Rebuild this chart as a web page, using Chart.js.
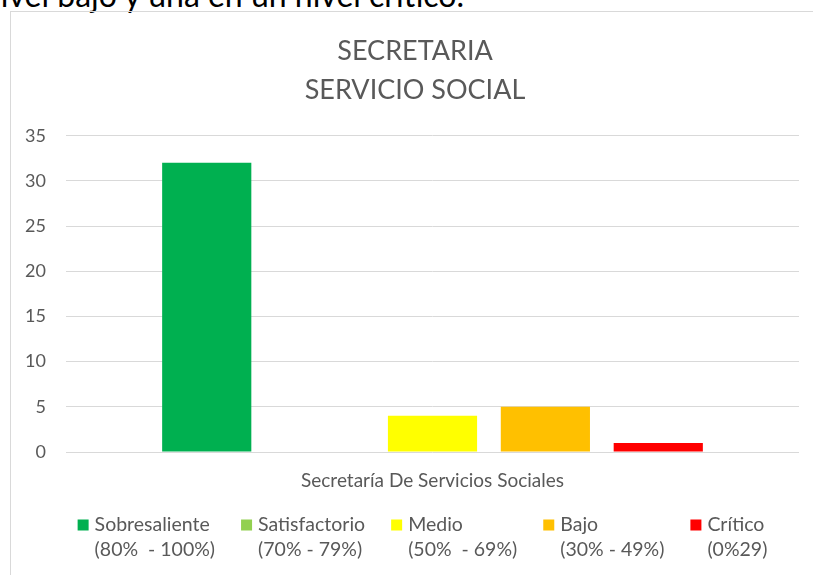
<!DOCTYPE html>
<html>
<head>
<meta charset="utf-8">
<script src="https://cdn.jsdelivr.net/npm/chart.js@4.4.1/dist/chart.umd.min.js"></script>
<style>
  html,body{margin:0;padding:0;background:#fff;overflow:hidden;}
  body{width:813px;height:575px;position:relative;}
  .doc-line{position:absolute;left:-17px;top:-21px;font:32px/32px Lato,sans-serif;color:#000;white-space:nowrap;}
  .frame{position:absolute;left:10px;top:11px;width:830px;height:600px;border:1px solid #d9d9d9;}
  #chart{position:absolute;left:11px;top:12px;}
</style>
</head>
<body>
<div class="doc-line">nivel bajo y una en un nivel crítico.</div>
<div class="frame"></div>
<canvas id="chart" width="808" height="563"></canvas>
<script>
/* data */
const categories = ['Secretaría De Servicios Sociales'];
const levels = ['Sobresaliente', 'Satisfactorio', 'Medio', 'Bajo', 'Crítico'];
const ranges = ['(80%  - 100%)', '(70% - 79%)', '(50%  - 69%)', '(30% - 49%)', '(0%29)'];
const counts = [32, 0, 4, 5, 1];
const titleLines = ['SECRETARIA', 'SERVICIO SOCIAL'];
const yMin = 0, yMax = 35, yStep = 5;

/* styles */
const levelColors = ['#00B050', '#92D050', '#FFFF00', '#FFC000', '#FF0000'];
const GREY = '#595959';
const FONT = 'Lato, sans-serif';

/* two-line legend under the axis, drawn on the canvas */
const twoLineLegend = {
  id: 'twoLineLegend',
  afterDraw(chart){
    const ctx = chart.ctx;
    const box = 11, gap = 6, spacing = 26, line1 = 513, line2 = 538;
    ctx.save();
    ctx.font = '19.5px ' + FONT;
    ctx.textBaseline = 'middle';
    ctx.textAlign = 'left';
    const widths = levels.map((l, i) => box + gap + Math.max(ctx.measureText(l).width, ctx.measureText(ranges[i]).width));
    const total = widths.reduce((a, b) => a + b, 0) + spacing * (levels.length - 1);
    let x = 411.5 - total / 2;
    levels.forEach((l, i) => {
      ctx.fillStyle = levelColors[i];
      ctx.fillRect(x, line1 - box / 2, box, box);
      ctx.fillStyle = GREY;
      ctx.fillText(l, x + box + gap, line1);
      ctx.fillText(ranges[i], x + box + gap, line2);
      x += widths[i] + spacing;
    });
    ctx.restore();
  }
};

new Chart(document.getElementById('chart'), {
  type: 'bar',
  data: {
    labels: categories,
    datasets: levels.map((l, i) => ({
      label: l,
      data: [counts[i]],
      backgroundColor: levelColors[i],
      borderWidth: 0,
      categoryPercentage: 0.77,
      barPercentage: 0.79
    }))
  },
  options: {
    responsive: false,
    devicePixelRatio: 1,
    animation: false,
    layout: { padding: 0 },
    plugins: {
      legend: { display: false },
      tooltip: { enabled: false },
      title: {
        display: true,
        text: titleLines,
        color: GREY,
        font: { family: FONT, size: 27, weight: 'normal', lineHeight: 1.44 },
        padding: { top: 20, bottom: 26 }
      }
    },
    scales: {
      x: {
        grid: { display: false },
        border: { display: false },
        ticks: { color: GREY, font: { family: FONT, size: 19 }, padding: 9 },
        afterFit(scale){ scale.height = 123; }
      },
      y: {
        min: yMin, max: yMax,
        grid: { color: '#d9d9d9', lineWidth: 1, drawTicks: false },
        border: { display: false },
        ticks: { stepSize: yStep, color: GREY, font: { family: FONT, size: 18 }, padding: 20 },
        afterFit(scale){ scale.width = 55; }
      },
      // empty right-hand strip, keeps the plot off the frame's right side
      yRight: {
        position: 'right',
        grid: { display: false },
        border: { display: false },
        ticks: { display: false },
        afterFit(scale){ scale.width = 20; }
      }
    }
  },
  plugins: [twoLineLegend]
});
</script>
</body>
</html>
